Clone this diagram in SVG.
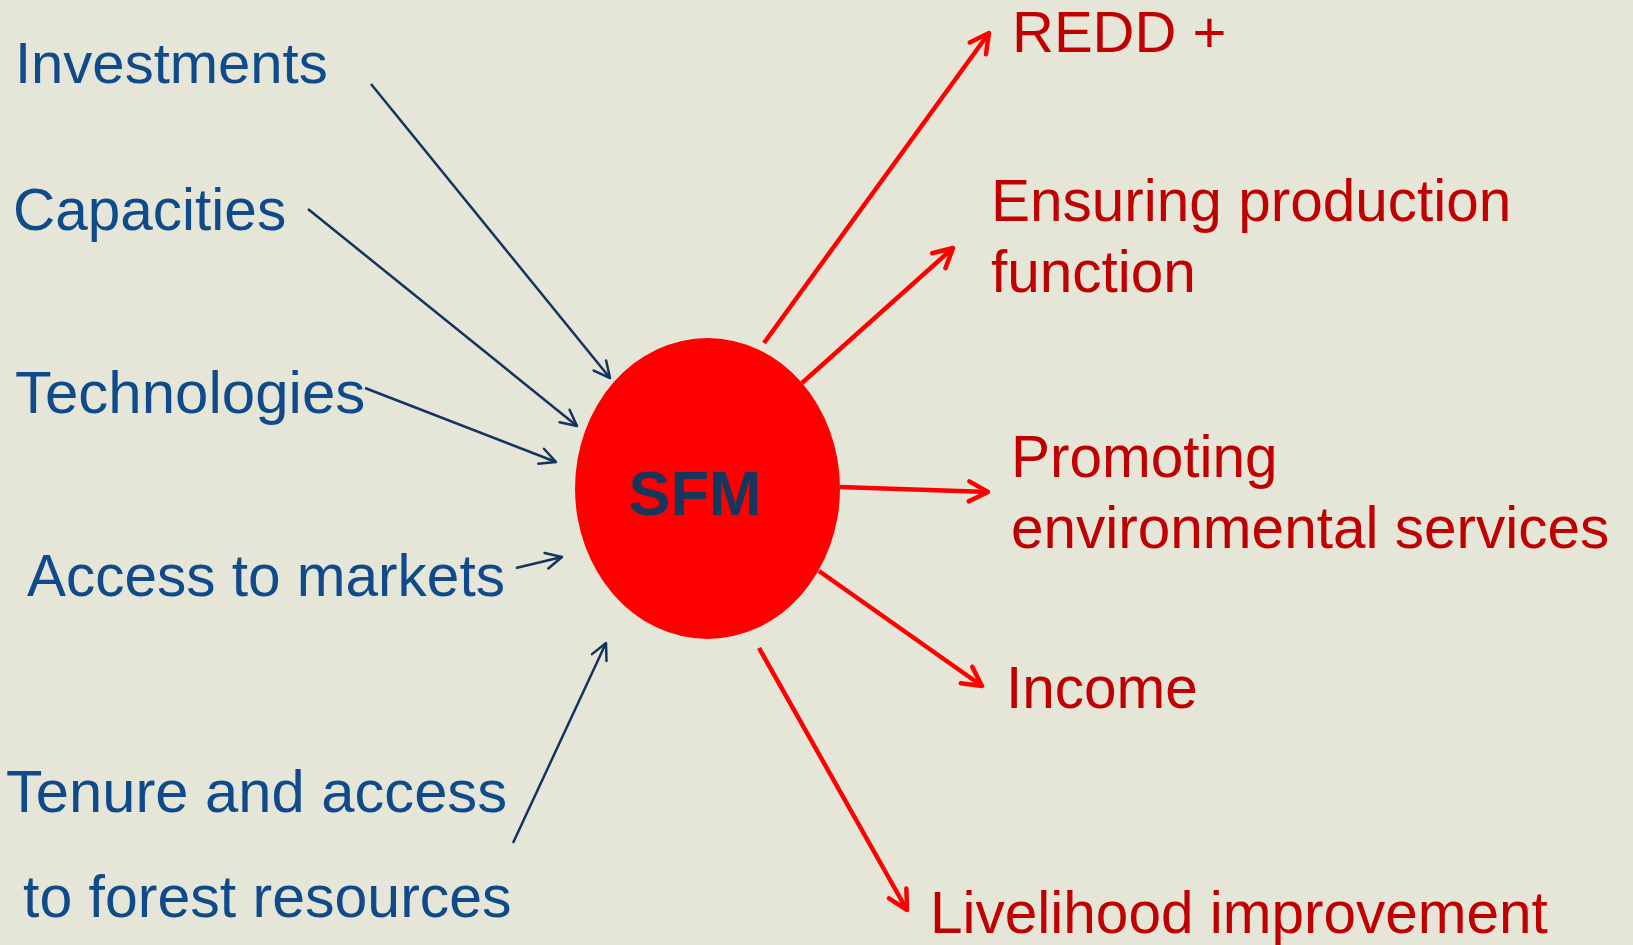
<svg xmlns="http://www.w3.org/2000/svg" width="1633" height="945" viewBox="0 0 1633 945">
<defs>
<style>
.in{font-family:"Liberation Sans",Arial,sans-serif;font-size:58.5px;fill:#0F4A8A}
.out{font-family:"Liberation Sans",Arial,sans-serif;font-size:58.5px;fill:#C00000}
.navy{stroke:#14335E;stroke-width:2.5;fill:none}
.red{stroke:#FF0000;stroke-width:4.5;fill:none}
</style>
<marker id="hn" markerUnits="userSpaceOnUse" markerWidth="40" markerHeight="40" refX="0" refY="0" orient="auto" overflow="visible" viewBox="-20 -20 40 40">
<path d="M-16,-8 L0,0 L-16,8" fill="none" stroke="#14335E" stroke-width="2.5" stroke-linecap="round" stroke-linejoin="round"/>
</marker>
<marker id="hr" markerUnits="userSpaceOnUse" markerWidth="50" markerHeight="50" refX="0" refY="0" orient="auto" overflow="visible" viewBox="-25 -25 50 50">
<path d="M-19,-10 L0,0 L-19,10" fill="none" stroke="#FF0000" stroke-width="4.5" stroke-linecap="round" stroke-linejoin="round"/>
</marker>
</defs>
<rect width="1633" height="945" fill="#E6E6D8"/>
<g id="connectors">
<line class="navy" x1="371" y1="84" x2="610" y2="378" marker-end="url(#hn)"/>
<line class="navy" x1="308" y1="209" x2="577" y2="426" marker-end="url(#hn)"/>
<line class="navy" x1="365" y1="388" x2="556" y2="462" marker-end="url(#hn)"/>
<line class="navy" x1="516" y1="568" x2="562" y2="557" marker-end="url(#hn)"/>
<line class="navy" x1="513" y1="843" x2="606" y2="643" marker-end="url(#hn)"/>
<line class="red" x1="764" y1="343" x2="989" y2="33" marker-end="url(#hr)"/>
<line class="red" x1="802" y1="383" x2="953" y2="248" marker-end="url(#hr)"/>
<line class="red" x1="840" y1="487" x2="988" y2="492" marker-end="url(#hr)"/>
<line class="red" x1="819" y1="571" x2="982" y2="686" marker-end="url(#hr)"/>
<line class="red" x1="759" y1="648" x2="907" y2="910" marker-end="url(#hr)"/>
</g>
<g id="sfm">
<ellipse cx="707.5" cy="488.5" rx="132.5" ry="150.5" fill="#FF0000"/>
<text x="695" y="515" text-anchor="middle" font-family="'Liberation Sans',Arial,sans-serif" font-size="63" font-weight="bold" fill="#17365D">SFM</text>
</g>
<g id="investments"><text class="in" x="15" y="83" style="font-size:58px">Investments</text></g>
<g id="capacities"><text class="in" x="13" y="230">Capacities</text></g>
<g id="technologies"><text class="in" x="15" y="413" style="font-size:60px">Technologies</text></g>
<g id="markets"><text class="in" x="27" y="596">Access to markets</text></g>
<g id="tenure"><text class="in" x="6" y="812" style="font-size:59.7px">Tenure and access</text><text class="in" x="23" y="917" style="font-size:59px">to forest resources</text></g>
<g id="redd"><text class="out" x="1012" y="52" style="font-size:58px">REDD +</text></g>
<g id="production"><text class="out" x="991" y="221">Ensuring production</text><text class="out" x="991" y="292">function</text></g>
<g id="environment"><text class="out" x="1011" y="477">Promoting</text><text class="out" x="1011" y="548">environmental services</text></g>
<g id="income"><text class="out" x="1006" y="708">Income</text></g>
<g id="livelihood"><text class="out" x="930" y="933">Livelihood improvement</text></g>
</svg>
